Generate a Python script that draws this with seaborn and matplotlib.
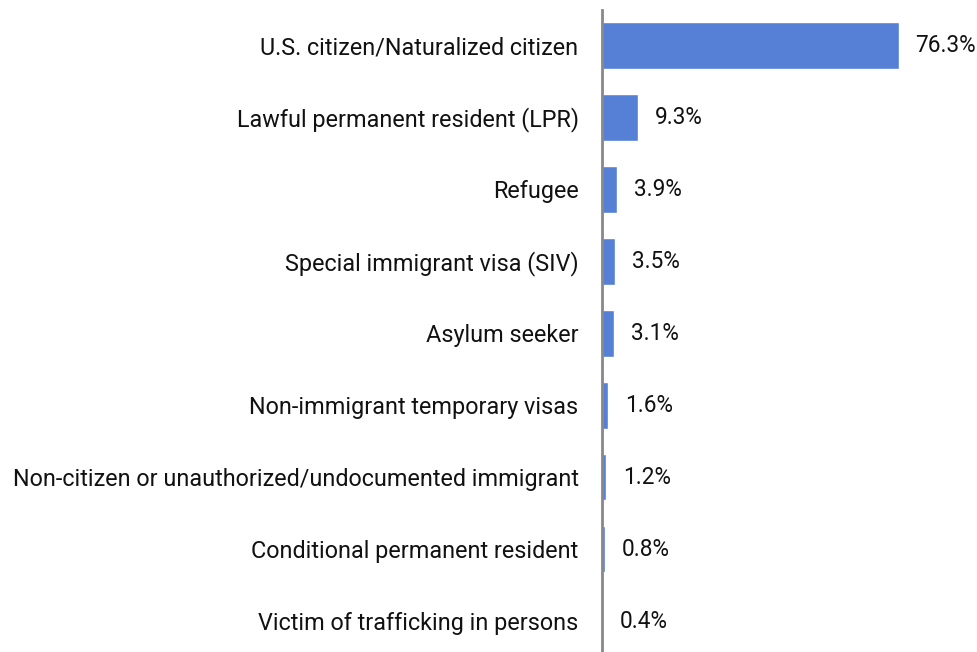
import matplotlib
matplotlib.use("Agg")
import matplotlib.pyplot as plt
import seaborn as sns
import pandas as pd

categories = [
    "U.S. citizen/Naturalized citizen",
    "Lawful permanent resident (LPR)",
    "Refugee",
    "Special immigrant visa (SIV)",
    "Asylum seeker",
    "Non-immigrant temporary visas",
    "Non-citizen or unauthorized/undocumented immigrant",
    "Conditional permanent resident",
    "Victim of trafficking in persons",
]
shares = [76.3, 9.3, 3.9, 3.5, 3.1, 1.6, 1.2, 0.8, 0.4]

df = pd.DataFrame({"status": categories, "share": shares})

sns.set_theme(style="white")
plt.rcParams["font.family"] = ["Roboto", "DejaVu Sans"]

W, H = 977, 652
fig = plt.figure(figsize=(W / 100, H / 100), dpi=100)
ax = fig.add_axes([601.5 / W, 0, 1 - 601.5 / W, (H - 10) / H])

sns.barplot(data=df, x="share", y="status", color="#5580D5", width=0.65,
            saturation=1, ax=ax)

px_per_unit = 297 / 76.3
ax.set_xlim(0, (W - 601.5) / px_per_unit)
ax.set_ylim(8.43, -0.49)

for i, v in enumerate(shares):
    ax.text(v + 17 / px_per_unit, i, f"{v}%", va="center", ha="left",
            fontsize=16.3, color="#111111")

ax.set_xlabel("")
ax.set_ylabel("")
ax.set_xticks([])
ax.tick_params(axis="y", length=0, pad=16.5, labelsize=16.8, labelcolor="#111111")
for side in ["top", "right", "bottom"]:
    ax.spines[side].set_visible(False)
ax.spines["left"].set_color("#888888")
ax.spines["left"].set_linewidth(2)

fig.savefig("out.png", dpi=100)
